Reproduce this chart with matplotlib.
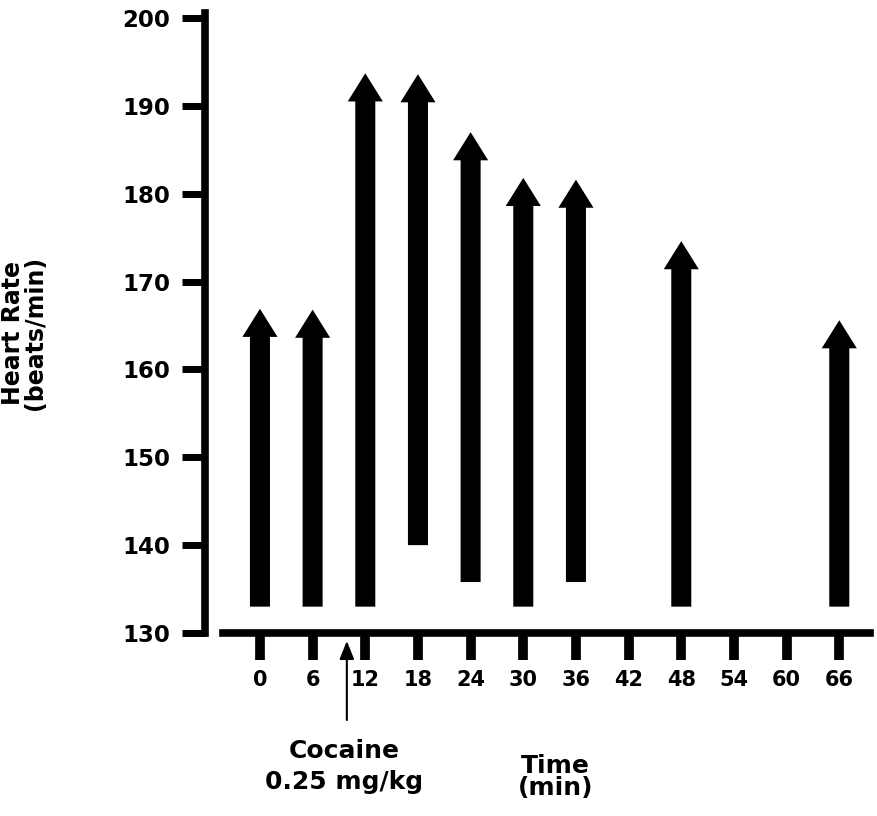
import matplotlib
matplotlib.use("Agg")
import matplotlib.pyplot as plt

# heart rate before (low end) and after (arrow tip), beats/min
times = [0, 6, 12, 18, 24, 30, 36, 48, 66]
hr_low = [133, 133, 133, 140, 135.8, 133, 135.8, 133, 133]
hr_high = [166.9, 166.8, 193.7, 193.6, 187, 181.8, 181.6, 174.6, 165.6]
x_ticks = [0, 6, 12, 18, 24, 30, 36, 42, 48, 54, 60, 66]
y_ticks = [130, 140, 150, 160, 170, 180, 190, 200]
cocaine_time = 9.9

plt.rcParams['font.family'] = 'DejaVu Sans'
plt.rcParams['font.weight'] = 'bold'

W, H = 877, 816
fig = plt.figure(figsize=(W / 100, H / 100), dpi=100)
ax = fig.add_axes([205 / W, 1 - 633 / H, 665 / W, (633 - 12.7) / H])
ax.set_xlim(-6.26, 69.5)
ax.set_ylim(130, 200.6)

for s in ['top', 'right']:
    ax.spines[s].set_visible(False)
ax.spines['left'].set_linewidth(5.5)
ax.spines['bottom'].set_linewidth(5.5)
ax.spines['bottom'].set_bounds(-4.2, 69.5)

ax.set_xticks(x_ticks)
ax.set_xticklabels([str(t) for t in x_ticks], fontsize=15, fontweight='bold')
ax.set_yticks(y_ticks)
ax.set_yticklabels([str(t) for t in y_ticks], fontsize=16.5, fontweight='bold')
ax.tick_params(axis='x', direction='out', length=19.5, width=7, pad=7)
ax.tick_params(axis='y', direction='out', length=16.5, width=5, pad=8.5)

# thick arrows: shaft ~20px, head ~35px wide, ~28px long (1 unit ~ 8.78px)
for t, lo, hi in zip(times, hr_low, hr_high):
    ax.arrow(t, lo, 0, hi - lo, width=2.28, head_width=4.0, head_length=3.2,
             length_includes_head=True, fc='black', ec='black', lw=0)

# injection marker below the axis
ax.annotate('', xy=(cocaine_time, 129.1), xytext=(cocaine_time, 120.1),
            xycoords='data', annotation_clip=False,
            arrowprops=dict(arrowstyle='-|>,head_length=0.55,head_width=0.22',
                            mutation_scale=20, lw=1.5, color='black',
                            shrinkA=0, shrinkB=0))
ax.text(9.6, 115.8, 'Cocaine', ha='center', va='baseline', fontsize=18,
        fontweight='bold', clip_on=False)
ax.text(9.6, 112.2, '0.25 mg/kg', ha='center', va='baseline', fontsize=18,
        fontweight='bold', clip_on=False)
ax.text(33.7, 114.1, 'Time', ha='center', va='baseline', fontsize=18,
        fontweight='bold', clip_on=False)
ax.text(33.7, 111.6, '(min)', ha='center', va='baseline', fontsize=18,
        fontweight='bold', clip_on=False)

fig.text(24 / W, 1 - 333 / H, 'Heart Rate\n(beats/min)', rotation=90,
         ha='center', va='center', multialignment='center', linespacing=0.9,
         fontsize=17, fontweight='bold')

fig.savefig('out.png', dpi=100)
